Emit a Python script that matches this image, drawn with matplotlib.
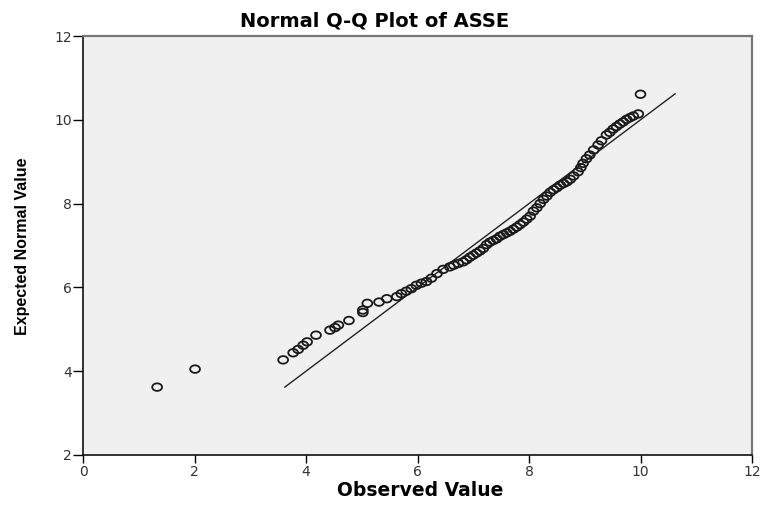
import numpy as np
import matplotlib
matplotlib.use("Agg")
import matplotlib.pyplot as plt
from matplotlib.path import Path
from matplotlib.transforms import Affine2D

observed = [1.33, 2.01, 3.59, 3.77, 3.86, 3.95, 4.02, 4.18, 4.43, 4.52, 4.58, 4.77,
            5.02, 5.02, 5.10, 5.31, 5.45, 5.63, 5.71, 5.80, 5.89, 5.98, 6.07, 6.16,
            6.25, 6.35, 6.46, 6.58, 6.65, 6.73, 6.82, 6.88, 6.94, 7.00, 7.06, 7.12,
            7.18, 7.24, 7.30, 7.36, 7.42, 7.48, 7.54, 7.60, 7.66, 7.72, 7.78, 7.84,
            7.90, 7.96, 8.02, 8.08, 8.14, 8.20, 8.26, 8.32, 8.38, 8.44, 8.50, 8.56,
            8.62, 8.68, 8.74, 8.80, 8.88, 8.93, 8.97, 9.03, 9.09, 9.16, 9.24, 9.30,
            9.39, 9.45, 9.51, 9.57, 9.63, 9.69, 9.75, 9.81, 9.87, 9.96, 10.00]
expected = [3.62, 4.05, 4.27, 4.44, 4.52, 4.62, 4.70, 4.86, 4.98, 5.04, 5.10, 5.21,
            5.40, 5.46, 5.62, 5.65, 5.73, 5.78, 5.85, 5.91, 5.97, 6.05, 6.10, 6.14,
            6.22, 6.33, 6.43, 6.49, 6.53, 6.57, 6.61, 6.66, 6.72, 6.77, 6.82, 6.87,
            6.93, 7.02, 7.08, 7.12, 7.16, 7.22, 7.26, 7.30, 7.34, 7.39, 7.44, 7.50,
            7.56, 7.63, 7.70, 7.82, 7.90, 8.00, 8.10, 8.18, 8.27, 8.33, 8.38, 8.44,
            8.48, 8.52, 8.58, 8.66, 8.76, 8.86, 8.96, 9.07, 9.16, 9.28, 9.40, 9.50,
            9.64, 9.70, 9.78, 9.84, 9.90, 9.95, 10.01, 10.05, 10.09, 10.14, 10.61]
ref_line = [3.62, 10.62]
ticks = [0, 2, 4, 6, 8, 10, 12]
yticks = [2, 4, 6, 8, 10, 12]

W, H = 764, 505
fig = plt.figure(figsize=(W / 100, H / 100), dpi=100)
ax = fig.add_axes([83 / W, (H - 455) / H, (752 - 83) / W, (455 - 36) / H])
ax.set_facecolor("#f0f0f0")

# slightly wide open circle, as in the source picture
ellipse = Path.unit_circle().transformed(Affine2D().scale(1.3, 1.0))
ax.scatter(observed, expected, marker=ellipse, s=50, facecolors="none",
           edgecolors="#1a1a1a", linewidths=1.3, zorder=3)
ax.plot(ref_line, ref_line, color="#222222", linewidth=1.0, zorder=2)

ax.set_xlim(0, 12)
ax.set_ylim(2, 12)
ax.set_xticks(ticks)
ax.set_yticks(yticks)
ax.tick_params(axis="y", direction="out", length=7, width=1, pad=1,
               labelsize=10, labelcolor="#333333")
ax.tick_params(axis="x", direction="out", length=5.5, width=1, pad=2,
               labelsize=10, labelcolor="#333333")

for side in ["left", "bottom"]:
    ax.spines[side].set_color("#111111")
    ax.spines[side].set_linewidth(1.2)
for side in ["top", "right"]:
    ax.spines[side].set_color("#777777")
    ax.spines[side].set_linewidth(1.6)

fig.text(375 / W, 1 - 21 / H, "Normal Q-Q Plot of ASSE", ha="center", va="center",
         fontsize=14, fontweight="bold", family="DejaVu Sans")
fig.text(420 / W, 1 - 490 / H, "Observed Value", ha="center", va="center",
         fontsize=13.5, fontweight="bold", family="DejaVu Sans")
fig.text(23 / W, 1 - 246 / H, "Expected Normal Value", ha="center", va="center",
         rotation=90, fontsize=11.5, fontweight="bold",
         family=["Liberation Sans Narrow", "Liberation Sans"])

fig.savefig("out.png", dpi=100)
